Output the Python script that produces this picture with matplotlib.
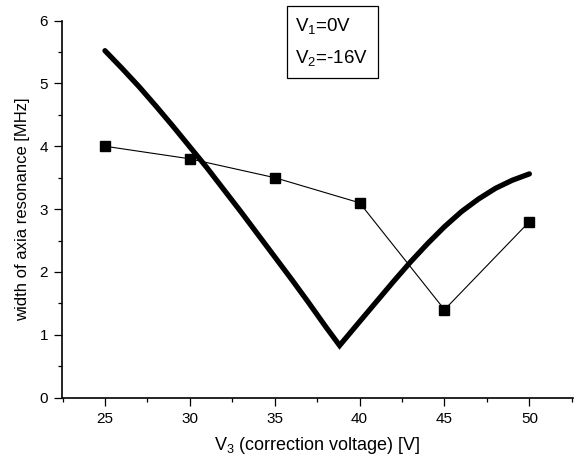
import matplotlib
matplotlib.use("Agg")
import matplotlib.pyplot as plt
from matplotlib.patches import Rectangle

plt.rcParams['font.family'] = ['Liberation Sans', 'DejaVu Sans']
plt.rcParams['mathtext.fontset'] = 'custom'
plt.rcParams['mathtext.rm'] = 'Liberation Sans'
plt.rcParams['mathtext.it'] = 'Liberation Sans:italic'
plt.rcParams['mathtext.default'] = 'regular'

# measured resonance width vs. correction voltage
v3_meas = [25, 30, 35, 40, 45, 50]
width_meas = [4.0, 3.8, 3.5, 3.1, 1.4, 2.8]

# calculated curve
v3_calc = [25, 26, 27, 28, 29, 30, 31, 32, 33, 34, 35, 36, 37, 38, 38.82,
           40, 41, 42, 43, 44, 45, 46, 47, 48, 49, 50]
width_calc = [5.52, 5.24, 4.95, 4.64, 4.32, 3.99, 3.66, 3.31, 2.96, 2.60, 2.24,
              1.88, 1.51, 1.13, 0.83,
              1.21, 1.53, 1.85, 2.16, 2.45, 2.72, 2.96, 3.16, 3.33, 3.46, 3.56]

xticks = [25, 30, 35, 40, 45, 50]
yticks = [0, 1, 2, 3, 4, 5, 6]

fig = plt.figure(figsize=(5.84, 4.59), dpi=100)
ax = fig.add_axes([0.1062, 0.1336, 0.8744, 0.8217])

ax.plot(v3_calc, width_calc, color='black', lw=3.8, solid_capstyle='round',
        solid_joinstyle='miter')
ax.plot(v3_meas, width_meas, color='black', lw=0.8, marker='s', markersize=6.5)

ax.set_xlim(22.47, 52.55)
ax.set_ylim(0, 6)
ax.set_xticks(xticks)
ax.set_yticks(yticks)
ax.set_xticks([22.5, 27.5, 32.5, 37.5, 42.5, 47.5, 52.5], minor=True)
ax.set_yticks([0.5, 1.5, 2.5, 3.5, 4.5, 5.5], minor=True)
ax.tick_params(which='major', direction='out', length=6, width=0.9, labelsize=11,
               pad=4)
ax.tick_params(which='minor', direction='out', length=3, width=0.9)
for side in ['top', 'right']:
    ax.spines[side].set_visible(False)
for side in ['left', 'bottom']:
    ax.spines[side].set_linewidth(1.2)

ax.set_xlabel(r'V$_3$ (correction voltage) [V]', fontsize=13, labelpad=7)
ax.set_ylabel('width of axia resonance [MHz]', fontsize=12, labelpad=7)

# parameter box above the plot
W, H = 584, 459
bx0, bx1, by0, by1 = 287, 378, 6, 78
fig.patches.append(Rectangle((bx0 / W + 1 / W, 1 - (by1 + 1) / H),
                             (bx1 - bx0) / W, (by1 - by0) / H,
                             transform=fig.transFigure, facecolor='#777777',
                             edgecolor='none', zorder=4))
fig.patches.append(Rectangle((bx0 / W, 1 - by1 / H), (bx1 - bx0) / W, (by1 - by0) / H,
                             transform=fig.transFigure, facecolor='white',
                             edgecolor='black', lw=0.9, zorder=5))
fig.text(295 / W, 1 - 31 / H, r'V$_1$=0V', fontsize=13.5, zorder=6, va='baseline')
fig.text(295 / W, 1 - 63 / H, r'V$_2$=-16V', fontsize=13.5, zorder=6, va='baseline')

fig.savefig('out.png', dpi=100)
